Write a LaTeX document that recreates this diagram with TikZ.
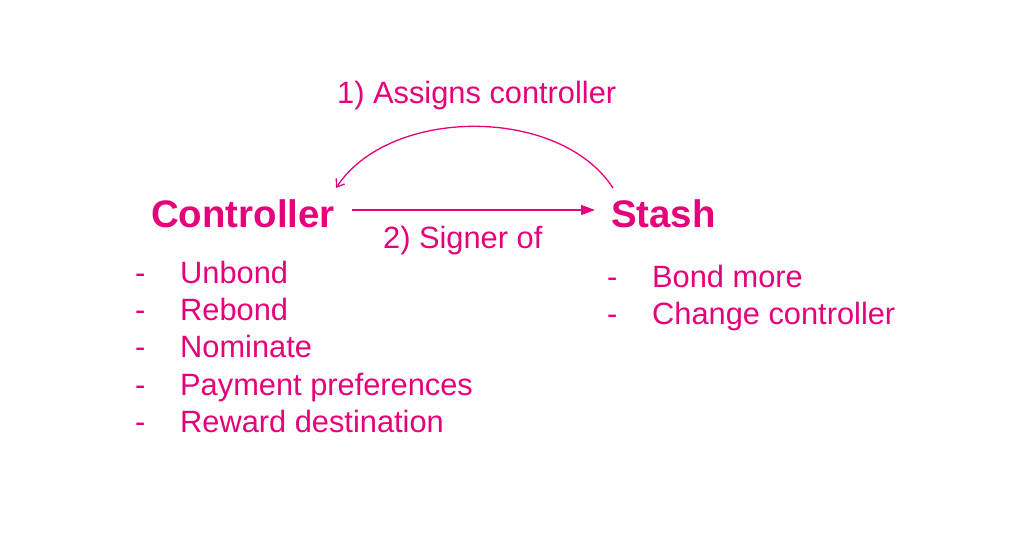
\documentclass[tikz,border=0pt]{standalone}
\usepackage{fontspec}
\setmainfont{Liberation Sans}
\usetikzlibrary{arrows.meta}
\definecolor{dotpink}{HTML}{E6007A}
\tikzset{
  txt/.style={anchor=base west, inner sep=0pt, text=dotpink, font=\fontsize{30.8}{36}\selectfont},
  ttl/.style={anchor=base west, inner sep=0pt, text=dotpink, font=\fontsize{38.4}{44}\selectfont\bfseries},
  conn/.style={draw=dotpink, line width=1.3pt},
}
\begin{document}
\begin{tikzpicture}[x=1pt,y=-1pt]
\useasboundingbox (0,0) rectangle (1029,541);
\node[ttl] (ctrl) at (151,227) {Controller};
\node[ttl] (stash) at (611,227) {Stash};
\node[txt] (lab1) at (337,103.5) {1) Assigns controller};
\node[txt] (lab2) at (383,248.5) {2) Signer of};
% left list
\node[txt] (d1) at (135,283) {-};
\node[txt] (i1) at (180,283) {Unbond};
\node[txt] (d2) at (135,320) {-};
\node[txt] (i2) at (180,320) {Rebond};
\node[txt] (d3) at (135,357.5) {-};
\node[txt] (i3) at (180,357.5) {Nominate};
\node[txt] (d4) at (135,395) {-};
\node[txt] (i4) at (180,395) {Payment preferences};
\node[txt] (d5) at (135,432) {-};
\node[txt] (i5) at (180,432) {Reward destination};
% right list
\node[txt] (r1d) at (607,287) {-};
\node[txt] (r1) at (652,287) {Bond more};
\node[txt] (r2d) at (607,324.5) {-};
\node[txt] (r2) at (652,324.5) {Change controller};
% connectors
\coordinate (sA) at (352,210);
\coordinate (sB) at (595,210);
\coordinate (cA) at (613,188);
\coordinate (cB) at (336,188);
\draw[conn, -{Triangle[length=14pt,width=10pt]}] (sA) -- (sB);
\draw[conn, -{Straight Barb[length=7pt,width=10pt]}] (cA) .. controls (560,106) and (390,106) .. (cB);
\end{tikzpicture}
\end{document}
